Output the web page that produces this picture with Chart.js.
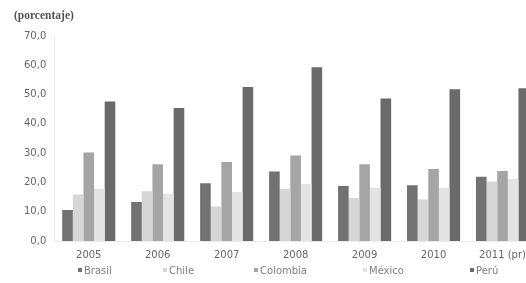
<!DOCTYPE html>
<html>
<head>
<meta charset="utf-8">
<script src="https://cdn.jsdelivr.net/npm/chart.js@4"></script>
<style>
    html, body { margin: 0; padding: 0; background: #fff; overflow: hidden; }
    #wrap { position: relative; width: 548px; height: 283px; }
    #unit { position: absolute; left: 14px; top: 9px; font-family: 'Liberation Serif', serif; font-size: 11.5px; font-weight: bold; color: #555; }
    .leg { position: absolute; top: 265px; font-family: 'DejaVu Sans', sans-serif; font-size: 10px; color: #808080; white-space: nowrap; }
    .leg i { display: inline-block; width: 4px; height: 4px; margin-right: 2px; vertical-align: middle; position: relative; top: -1px; }
</style>
</head>
<body>
<div id="wrap">
    <div id="unit">(porcentaje)</div>
    <canvas id="chart" width="548" height="283"></canvas>
</div>
<script>
// Years on the x axis
const years = ['2005', '2006', '2007', '2008', '2009', '2010', '2011 (pr)'];

// Series values (porcentaje)
const brasil   = [10.6, 13.3, 19.7, 23.7, 18.8, 19.0, 21.9];
const chile    = [15.9, 17.0, 11.8, 17.8, 14.7, 14.2, 20.3];
const colombia = [30.2, 26.2, 27.0, 29.2, 26.2, 24.6, 23.9];
const mexico   = [17.8, 16.1, 16.7, 19.5, 18.2, 18.2, 21.2];
const peru     = [47.6, 45.4, 52.6, 59.3, 48.7, 51.8, 52.2];

const yTicks = [0, 10, 20, 30, 40, 50, 60, 70];

const series = [
    { label: 'Brasil', data: brasil, color: '#727272' },
    { label: 'Chile', data: chile, color: '#d6d6d6' },
    { label: 'Colombia', data: colombia, color: '#a5a5a5' },
    { label: 'México', data: mexico, color: '#e3e3e3' },
    { label: 'Perú', data: peru, color: '#6a6a6a' }
];

// HTML legend (spread like the original)
const legendLeft = [78, 163, 254, 363, 470];
const wrap = document.getElementById('wrap');
series.forEach((s, i) => {
    const el = document.createElement('div');
    el.className = 'leg';
    el.style.left = legendLeft[i] + 'px';
    el.innerHTML = `<i style="background:${s.color}"></i>${s.label}`;
    wrap.appendChild(el);
});

const ctx = document.getElementById('chart').getContext('2d');
new Chart(ctx, {
    type: 'bar',
    data: {
        labels: years,
        datasets: series.map(s => ({
            label: s.label,
            data: s.data,
            backgroundColor: s.color,
            borderWidth: 0,
            barPercentage: 1.0,
            categoryPercentage: 0.77
        }))
    },
    options: {
        responsive: false,
        animation: false,
        layout: { padding: { top: 36, left: 16, right: 11, bottom: 14 } },
        plugins: {
            legend: { display: false },
            tooltip: { enabled: false }
        },
        scales: {
            y: {
                min: 0,
                max: 70,
                afterBuildTicks: axis => { axis.ticks = yTicks.map(v => ({ value: v })); },
                ticks: {
                    color: '#666',
                    padding: 8,
                    font: { family: 'DejaVu Sans', size: 10 },
                    callback: v => v.toFixed(1).replace('.', ',')
                },
                grid: { display: false, drawTicks: false },
                border: { color: '#ebebeb' }
            },
            x: {
                ticks: {
                    color: '#666',
                    padding: 8,
                    maxRotation: 0,
                    font: { family: 'DejaVu Sans', size: 10 }
                },
                grid: { display: false, drawTicks: false },
                border: { color: '#ebebeb' }
            }
        }
    }
});
</script>
</body>
</html>
